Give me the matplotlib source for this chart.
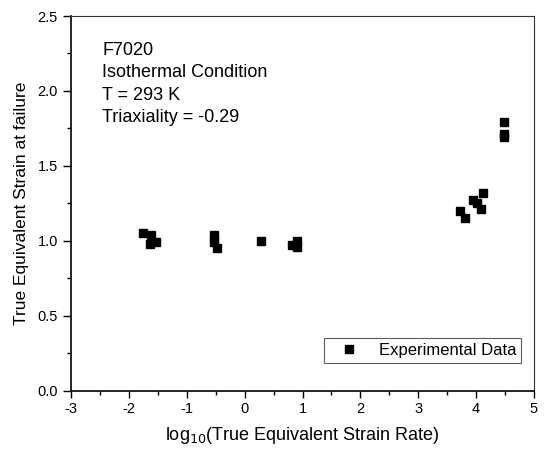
import numpy as np
import matplotlib
matplotlib.use("Agg")
import matplotlib.pyplot as plt
from matplotlib.ticker import MultipleLocator

plt.rcParams['font.family'] = ['Liberation Sans', 'DejaVu Sans']

# log10 strain rate vs strain at failure
log_rate = [-1.76, -1.62, -1.63, -1.53, -0.53, -0.53, -0.48, 0.28, 0.82, 0.91, 0.91,
            3.73, 3.80, 3.95, 4.01, 4.08, 4.12, 4.49, 4.49, 4.49]
strain = [1.05, 1.04, 0.98, 0.99, 1.04, 0.99, 0.95, 1.00, 0.97, 1.00, 0.96,
          1.20, 1.15, 1.27, 1.25, 1.21, 1.32, 1.79, 1.71, 1.69]
info_lines = ["F7020", "Isothermal Condition", "T = 293 K", "Triaxiality = -0.29"]

fig = plt.figure(figsize=(5.47, 4.55), dpi=100)
ax = fig.add_axes([71/547, 1 - 390.5/455, 463/547, 374.5/455])

ax.plot(log_rate, strain, 's', color='black', markersize=6, label='Experimental Data')

ax.set_xlim(-3, 5)
ax.set_ylim(0, 2.5)
ax.xaxis.set_major_locator(MultipleLocator(1))
ax.xaxis.set_minor_locator(MultipleLocator(0.5))
ax.yaxis.set_major_locator(MultipleLocator(0.5))
ax.yaxis.set_minor_locator(MultipleLocator(0.25))
ax.xaxis.set_major_formatter(plt.FuncFormatter(lambda v, p: '%d' % v))
ax.yaxis.set_major_formatter(plt.FuncFormatter(lambda v, p: '%.1f' % v))
ax.tick_params(which='major', direction='out', width=1, labelsize=10.5)
ax.tick_params(axis='x', which='major', length=5, pad=3.5)
ax.tick_params(axis='y', which='major', length=6, pad=3.5)
ax.tick_params(which='minor', direction='out', length=3, width=1)
ax.tick_params(top=False, right=False, which='both')

ax.spines['left'].set_linewidth(1.2)
ax.spines['bottom'].set_linewidth(1.2)
ax.spines['top'].set_color('#333333')
ax.spines['right'].set_color('#333333')

ax.set_xlabel(r'log$_{10}$(True Equivalent Strain Rate)', fontsize=13, labelpad=6)
ax.set_ylabel('True Equivalent Strain at failure', fontsize=12.5, labelpad=6)

ax.text(0.068, 0.93, "\n".join(info_lines), transform=ax.transAxes,
        fontsize=13, va='top', ha='left', linespacing=1.4)

leg = ax.legend(loc='lower right', bbox_to_anchor=(0.973, 0.0726), fontsize=12,
                frameon=True, fancybox=False, borderpad=0.3, handletextpad=0.6,
                handlelength=2.4, borderaxespad=0, numpoints=1)
leg.get_frame().set_edgecolor('#333333')
leg.get_frame().set_linewidth(0.8)

fig.savefig('out.png', dpi=100)
